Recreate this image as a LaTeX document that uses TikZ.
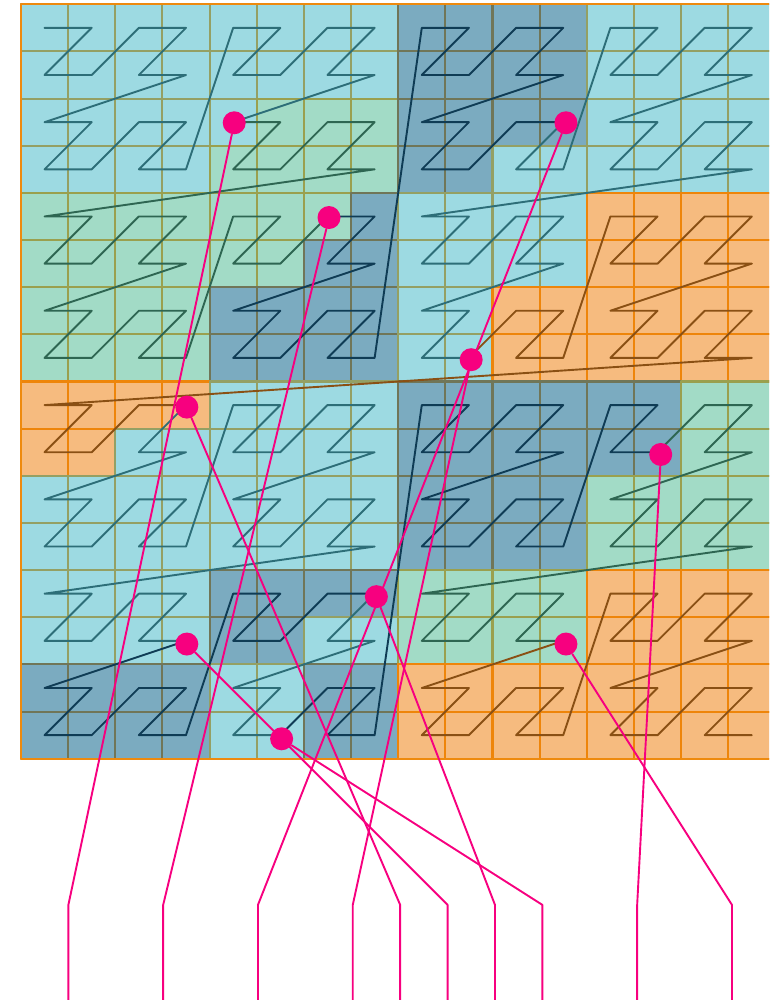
\documentclass[tikz,border=0pt]{standalone}
\usepackage{tikz}
\definecolor{gridorange}{HTML}{EE8A0E}
\definecolor{lbfill}{HTML}{9DDAE2}
\definecolor{grfill}{HTML}{A2DBC6}
\definecolor{dbfill}{HTML}{7BABC0}
\definecolor{orfill}{HTML}{F6BB7F}
\definecolor{lbgrid}{HTML}{94A064}
\definecolor{grgrid}{HTML}{9AA04E}
\definecolor{dbgrid}{HTML}{707658}
\definecolor{orgrid}{HTML}{EE850A}
\definecolor{lbink}{HTML}{2D6E78}
\definecolor{grink}{HTML}{2E6652}
\definecolor{dbink}{HTML}{0F3C55}
\definecolor{orink}{HTML}{8A5014}
\definecolor{splitpink}{HTML}{F7007F}
\tikzset{
    every picture/.style={line cap=round,line join=round},
    cellbox/.style={line width=2.1pt},
    cell lb/.style={cellbox,fill=lbfill,draw=lbgrid},
    cell gr/.style={cellbox,fill=grfill,draw=grgrid},
    cell db/.style={cellbox,fill=dbfill,draw=dbgrid},
    cell or/.style={cellbox,fill=orfill,draw=orgrid},
    frame/.style={draw=gridorange,line width=2.1pt},
    zcurve/.style={line width=1.9pt},
    curve lb/.style={zcurve,draw=lbink},
    curve gr/.style={zcurve,draw=grink},
    curve db/.style={zcurve,draw=dbink},
    curve or/.style={zcurve,draw=orink},
    splitdot/.style={circle,fill=splitpink,minimum size=23pt,inner sep=0pt},
    splitline/.style={draw=splitpink,line width=1.9pt}
}
\begin{document}
\begin{tikzpicture}[x=47.15pt,y=-47.15pt]
  \useasboundingbox (-0.445,-0.091) rectangle (15.864,21.117);
  \clip (-0.445,-0.091) rectangle (15.864,21.117);
  \foreach \n in {0,...,255} {
    \pgfmathtruncatemacro\cx{mod(\n,2)+2*mod(int(\n/4),2)+4*mod(int(\n/16),2)+8*mod(int(\n/64),2)}
    \pgfmathtruncatemacro\cy{mod(int(\n/2),2)+2*mod(int(\n/8),2)+4*mod(int(\n/32),2)+8*mod(int(\n/128),2)}
    \coordinate (z\n) at (\cx+0.5,\cy+0.5);
  }
  \foreach \a/\b/\c in {0/24/lb,25/52/gr,53/77/db,78/107/lb,108/133/or,134/167/lb,
      168/181/db,182/187/lb,188/211/db,212/231/gr,232/255/or} {
    \foreach \n in {\a,...,\b}
      \filldraw[cell \c] (z\n) ++(-0.5,-0.5) rectangle ++(1,1);
  }
  \draw[frame] (0,0) rectangle (16,16);
  \foreach \a/\b/\c in {0/24/lb,25/52/gr,53/77/db,78/107/lb,108/133/or,134/167/lb,
      168/181/db,182/187/lb,188/211/db,212/231/gr,232/255/or} {
    \pgfmathtruncatemacro\s{max(\a-1,0)}
    \draw[curve \c] (z\s) \foreach \n in {\a,...,\b} { -- (z\n) };
  }
  \begin{scope}[scale=1.005]
    \foreach \z/\col/\row/\k in {24/4/2/1,52/6/4/3,77/11/2/5,107/9/7/7,133/3/8/8,
        167/3/13/9,181/7/12/10,187/5/15/11,211/13/9/13,231/11/13/15} {
      \node[splitdot] (dot\z) at (\col+0.5,\row+0.5) {};
      \coordinate (kink\z) at (\k,19);
      \coordinate (foot\z) at (\k,21.2);
      \draw[splitline] (dot\z) -- (kink\z) -- (foot\z);
    }
  \end{scope}
\end{tikzpicture}
\end{document}
